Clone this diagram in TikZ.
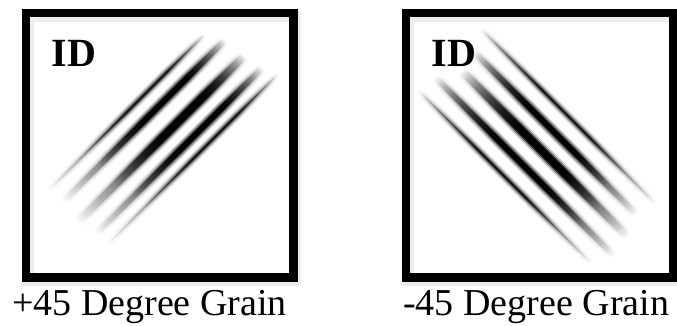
\documentclass[tikz,border=0pt]{standalone}
\usepackage{fontspec}
\setmainfont{Liberation Serif}
\usetikzlibrary{fadings}
\pgfdeclarehorizontalshading{lfadeshade}{100bp}{color(0bp)=(black); color(25bp)=(black); color(36bp)=(black!75!white); color(50bp)=(white); color(63bp)=(white); color(70bp)=(black!60!white); color(75bp)=(black); color(100bp)=(black)}
\pgfdeclarefading{lfade}{\pgfuseshading{lfadeshade}}
\pgfdeclarehorizontalshading{rfadeshade}{100bp}{color(0bp)=(black); color(25bp)=(black); color(31bp)=(black!65!white); color(42bp)=(white); color(56bp)=(white); color(66bp)=(black!70!white); color(75bp)=(black); color(100bp)=(black)}
\pgfdeclarefading{rfade}{\pgfuseshading{rfadeshade}}
\newcommand{\grainstripe}[6]{%
  \begin{scope}[transform canvas={shift={(#1,#2)},rotate=#3}]
    \fill[black, fill opacity=0.18, path fading=#6] (-#4/2,-#5/2-3) rectangle (#4/2,#5/2+3);
    \fill[black, fill opacity=0.35, path fading=#6] (-#4/2,-#5/2-1.5) rectangle (#4/2,#5/2+1.5);
    \fill[black, fill opacity=0.7, path fading=#6] (-#4/2,-#5/2) rectangle (#4/2,#5/2);
    \fill[black, fill opacity=0.9, path fading=#6] (-#4/2,-#5/2+1) rectangle (#4/2,#5/2-1);
  \end{scope}}
\tikzset{
  frame/.style={draw=black, line width=8.5pt, minimum width=267.5pt, minimum height=264pt, inner sep=0pt, anchor=north west},
  frameshadow/.style={draw=black, line width=11pt, draw opacity=0.07, minimum width=267.5pt, minimum height=264pt, inner sep=0pt, anchor=north west},
  idtext/.style={font=\bfseries\fontsize{40}{42}\selectfont, inner sep=0pt, anchor=base west},
  caption/.style={font=\fontsize{38}{40}\selectfont, inner sep=0pt, anchor=base west}
}
\begin{document}
\begin{tikzpicture}[x=1pt,y=-1pt]
\useasboundingbox[fill=white] (0,0) rectangle (677,326);
% frame shadows
\node[frameshadow] (ls) at (22.5,11) {};
\node[frameshadow] (rs) at (402.5,11) {};
% stripes left (+45)
\grainstripe{126.5}{112.5}{45}{220}{2.5}{lfade}
\grainstripe{144}{121}{45}{228}{7}{lfade}
\grainstripe{161}{139}{45}{235}{9}{lfade}
\grainstripe{179}{151}{45}{234}{7}{lfade}
\grainstripe{192.5}{159.5}{45}{240}{2.5}{lfade}
% stripes right (-45)
\grainstripe{505}{177}{-45}{244}{2.5}{rfade}
\grainstripe{524.5}{166.5}{-45}{252}{7}{rfade}
\grainstripe{544.5}{153.5}{-45}{234}{9}{rfade}
\grainstripe{555}{133}{-45}{230}{7}{rfade}
\grainstripe{568}{116}{-45}{248}{2.5}{rfade}
% frames
\node[frame] (lf) at (21.5,9) {};
\node[frame] (rf) at (401.5,9) {};
% ID labels
\node[idtext] (lid) at (51.5,67) {ID};
\node[idtext] (rid) at (431.5,67) {ID};
% captions
\node[caption] (lcap) at (12,315) {+45 Degree Grain};
\node[caption] (rcap) at (403,315) {-45 Degree Grain};
\end{tikzpicture}
\end{document}
